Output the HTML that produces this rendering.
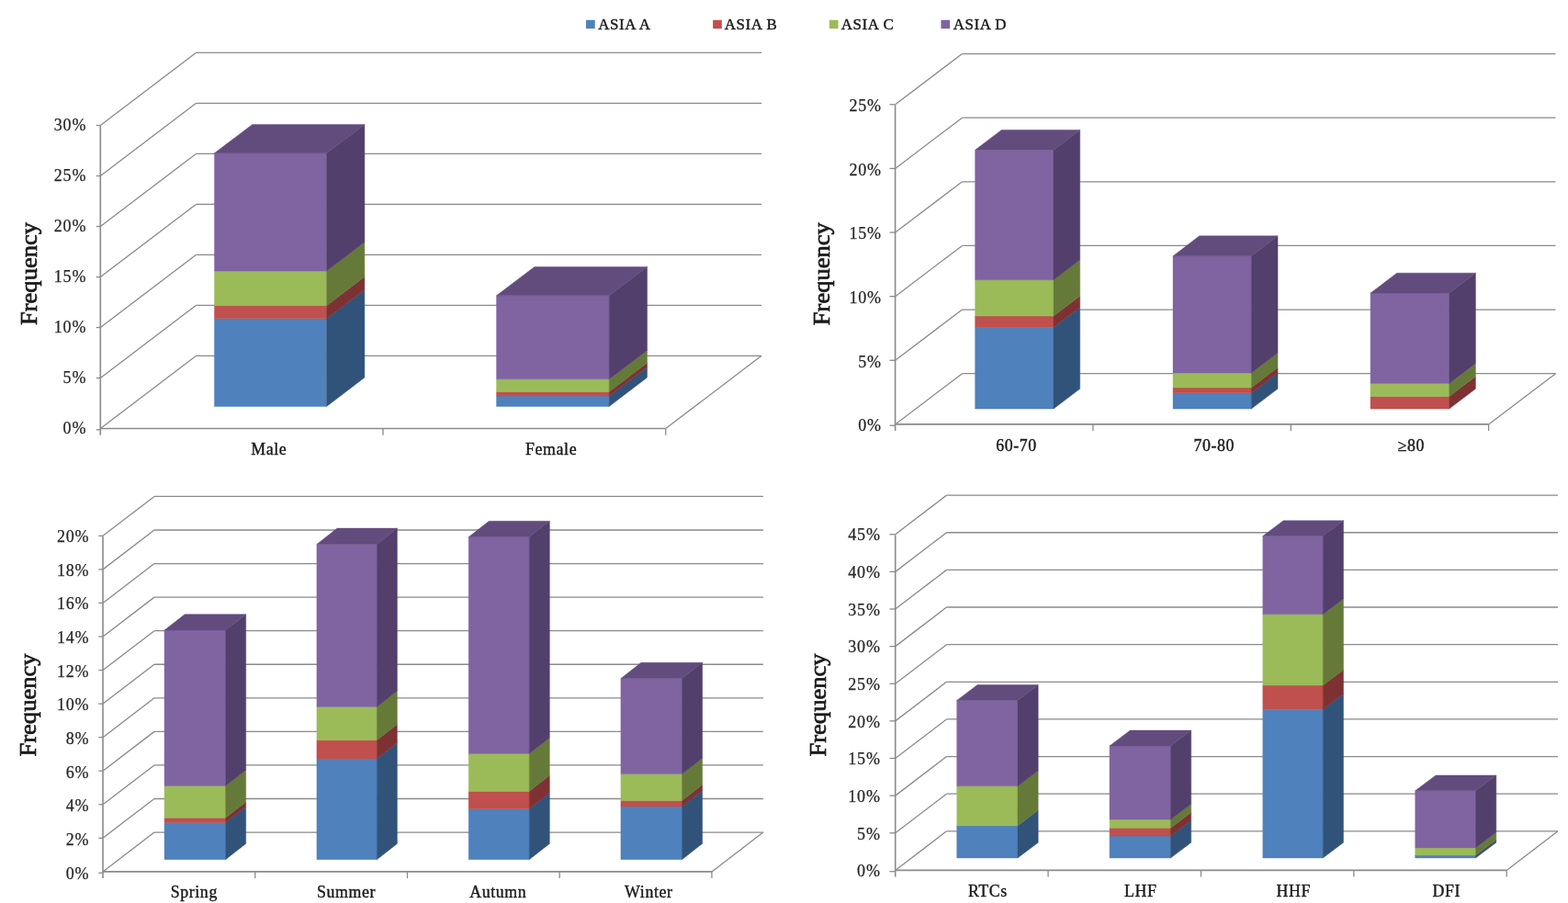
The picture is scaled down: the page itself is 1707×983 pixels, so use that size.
<!DOCTYPE html>
<html><head><meta charset="utf-8"><title>ASIA frequency charts</title>
<style>
html,body{margin:0;padding:0;background:#fff;}
body{width:1707px;height:983px;overflow:hidden;}
svg{display:block;}
polygon{stroke-width:0.45px;stroke-linejoin:miter;}
text{font-family:"Liberation Serif","Times New Roman",serif;fill:#1a1a1a;}
.tk{font-size:18.0px;text-anchor:end;dominant-baseline:central;fill:#262626;stroke:#262626;stroke-width:0.25px;letter-spacing:0.8px;}
.ct{font-size:17.8px;text-anchor:middle;stroke:#1a1a1a;stroke-width:0.4px;letter-spacing:0.65px;}
.fq{font-size:24.8px;text-anchor:middle;dominant-baseline:central;stroke:#1a1a1a;stroke-width:0.7px;}
.lg{font-size:16.9px;stroke:#1a1a1a;stroke-width:0.45px;letter-spacing:0.58px;}
</style></head>
<body>
<svg width="1707" height="983" viewBox="0 0 1707 983">
<rect width="1707" height="983" fill="#fff"/>
<rect x="638" y="21.8" width="9.7" height="9.4" fill="#4f81bd"/>
<text x="651.2" y="32.4" class="lg">ASIA A</text>
<rect x="776.1" y="21.8" width="9.7" height="9.4" fill="#c0504d"/>
<text x="788.8" y="32.4" class="lg">ASIA B</text>
<rect x="902.8" y="21.8" width="9.7" height="9.4" fill="#9bbb59"/>
<text x="915.8" y="32.4" class="lg">ASIA C</text>
<rect x="1024.4" y="21.8" width="9.7" height="9.4" fill="#8064a2"/>
<text x="1037.7" y="32.4" class="lg">ASIA D</text>
<line x1="213.6" y1="387.35" x2="829" y2="387.35" stroke="#8a8a8a" stroke-width="1.3"/>
<line x1="109.3" y1="466.5" x2="213.6" y2="387.35" stroke="#8a8a8a" stroke-width="1.3"/>
<line x1="213.6" y1="332.35" x2="829" y2="332.35" stroke="#8a8a8a" stroke-width="1.3"/>
<line x1="109.3" y1="411.5" x2="213.6" y2="332.35" stroke="#8a8a8a" stroke-width="1.3"/>
<line x1="213.6" y1="277.35" x2="829" y2="277.35" stroke="#8a8a8a" stroke-width="1.3"/>
<line x1="109.3" y1="356.5" x2="213.6" y2="277.35" stroke="#8a8a8a" stroke-width="1.3"/>
<line x1="213.6" y1="222.35" x2="829" y2="222.35" stroke="#8a8a8a" stroke-width="1.3"/>
<line x1="109.3" y1="301.5" x2="213.6" y2="222.35" stroke="#8a8a8a" stroke-width="1.3"/>
<line x1="213.6" y1="167.35" x2="829" y2="167.35" stroke="#8a8a8a" stroke-width="1.3"/>
<line x1="109.3" y1="246.5" x2="213.6" y2="167.35" stroke="#8a8a8a" stroke-width="1.3"/>
<line x1="213.6" y1="112.35" x2="829" y2="112.35" stroke="#8a8a8a" stroke-width="1.3"/>
<line x1="109.3" y1="191.5" x2="213.6" y2="112.35" stroke="#8a8a8a" stroke-width="1.3"/>
<line x1="213.6" y1="57.35" x2="829" y2="57.35" stroke="#8a8a8a" stroke-width="1.3"/>
<line x1="109.3" y1="136.5" x2="213.6" y2="57.35" stroke="#8a8a8a" stroke-width="1.3"/>
<line x1="109.3" y1="466.5" x2="724.7" y2="466.5" stroke="#8a8a8a" stroke-width="1.6"/>
<line x1="724.7" y1="466.5" x2="829" y2="387.35" stroke="#8a8a8a" stroke-width="1.3"/>
<line x1="109.3" y1="136.9" x2="109.3" y2="473.7" stroke="#8a8a8a" stroke-width="1.6"/>
<line x1="104.7" y1="467.8" x2="109.3" y2="467.8" stroke="#8a8a8a" stroke-width="1.3"/>
<text x="94.2" y="466.3" class="tk">0%</text>
<line x1="104.7" y1="411.5" x2="109.3" y2="411.5" stroke="#8a8a8a" stroke-width="1.3"/>
<text x="94.2" y="411.27" class="tk">5%</text>
<line x1="104.7" y1="356.5" x2="109.3" y2="356.5" stroke="#8a8a8a" stroke-width="1.3"/>
<text x="94.2" y="356.24" class="tk">10%</text>
<line x1="104.7" y1="301.5" x2="109.3" y2="301.5" stroke="#8a8a8a" stroke-width="1.3"/>
<text x="94.2" y="301.21" class="tk">15%</text>
<line x1="104.7" y1="246.5" x2="109.3" y2="246.5" stroke="#8a8a8a" stroke-width="1.3"/>
<text x="94.2" y="246.18" class="tk">20%</text>
<line x1="104.7" y1="191.5" x2="109.3" y2="191.5" stroke="#8a8a8a" stroke-width="1.3"/>
<text x="94.2" y="191.15" class="tk">25%</text>
<line x1="104.7" y1="136.5" x2="109.3" y2="136.5" stroke="#8a8a8a" stroke-width="1.3"/>
<text x="94.2" y="136.12" class="tk">30%</text>
<line x1="417" y1="466.5" x2="417" y2="473.7" stroke="#8a8a8a" stroke-width="1.3"/>
<line x1="724.7" y1="466.5" x2="724.7" y2="473.7" stroke="#8a8a8a" stroke-width="1.3"/>
<polygon points="233.4,442.4 355.6,442.4 355.6,346.8 233.4,346.8" fill="#4f81bd" stroke="#4f81bd"/>
<polygon points="355.6,442.4 396.9,411 396.9,315.4 355.6,346.8" fill="#31537a" stroke="#31537a"/>
<polygon points="233.4,346.8 355.6,346.8 355.6,332.7 233.4,332.7" fill="#c0504d" stroke="#c0504d"/>
<polygon points="355.6,346.8 396.9,315.4 396.9,301.3 355.6,332.7" fill="#7e3133" stroke="#7e3133"/>
<polygon points="233.4,332.7 355.6,332.7 355.6,295 233.4,295" fill="#9bbb59" stroke="#9bbb59"/>
<polygon points="355.6,332.7 396.9,301.3 396.9,263.6 355.6,295" fill="#657a39" stroke="#657a39"/>
<polygon points="233.4,295 355.6,295 355.6,166.8 233.4,166.8" fill="#8064a2" stroke="#8064a2"/>
<polygon points="355.6,295 396.9,263.6 396.9,135.4 355.6,166.8" fill="#523f6b" stroke="#523f6b"/>
<polygon points="233.4,166.8 355.6,166.8 396.9,135.4 274.7,135.4" fill="#624c7e" stroke="#624c7e"/>
<polygon points="540.5,442.4 663.2,442.4 663.2,431.1 540.5,431.1" fill="#4f81bd" stroke="#4f81bd"/>
<polygon points="663.2,442.4 704.5,411 704.5,399.7 663.2,431.1" fill="#31537a" stroke="#31537a"/>
<polygon points="540.5,431.1 663.2,431.1 663.2,426.5 540.5,426.5" fill="#c0504d" stroke="#c0504d"/>
<polygon points="663.2,431.1 704.5,399.7 704.5,395.1 663.2,426.5" fill="#7e3133" stroke="#7e3133"/>
<polygon points="540.5,426.5 663.2,426.5 663.2,412.8 540.5,412.8" fill="#9bbb59" stroke="#9bbb59"/>
<polygon points="663.2,426.5 704.5,395.1 704.5,381.4 663.2,412.8" fill="#657a39" stroke="#657a39"/>
<polygon points="540.5,412.8 663.2,412.8 663.2,321.8 540.5,321.8" fill="#8064a2" stroke="#8064a2"/>
<polygon points="663.2,412.8 704.5,381.4 704.5,290.4 663.2,321.8" fill="#523f6b" stroke="#523f6b"/>
<polygon points="540.5,321.8 663.2,321.8 704.5,290.4 581.8,290.4" fill="#624c7e" stroke="#624c7e"/>
<text x="292.8" y="494.6" class="ct">Male</text>
<text x="600.1" y="494.6" class="ct">Female</text>
<text transform="translate(32.2,298) rotate(-90) scale(1.071,1)" class="fq">Frequency</text>
<line x1="1047.5" y1="406.65" x2="1693.5" y2="406.65" stroke="#8a8a8a" stroke-width="1.3"/>
<line x1="974.6" y1="461.9" x2="1047.5" y2="406.65" stroke="#8a8a8a" stroke-width="1.3"/>
<line x1="1047.5" y1="337.03" x2="1693.5" y2="337.03" stroke="#8a8a8a" stroke-width="1.3"/>
<line x1="974.6" y1="392.28" x2="1047.5" y2="337.03" stroke="#8a8a8a" stroke-width="1.3"/>
<line x1="1047.5" y1="267.41" x2="1693.5" y2="267.41" stroke="#8a8a8a" stroke-width="1.3"/>
<line x1="974.6" y1="322.66" x2="1047.5" y2="267.41" stroke="#8a8a8a" stroke-width="1.3"/>
<line x1="1047.5" y1="197.79" x2="1693.5" y2="197.79" stroke="#8a8a8a" stroke-width="1.3"/>
<line x1="974.6" y1="253.04" x2="1047.5" y2="197.79" stroke="#8a8a8a" stroke-width="1.3"/>
<line x1="1047.5" y1="128.17" x2="1693.5" y2="128.17" stroke="#8a8a8a" stroke-width="1.3"/>
<line x1="974.6" y1="183.42" x2="1047.5" y2="128.17" stroke="#8a8a8a" stroke-width="1.3"/>
<line x1="1047.5" y1="58.55" x2="1693.5" y2="58.55" stroke="#8a8a8a" stroke-width="1.3"/>
<line x1="974.6" y1="113.8" x2="1047.5" y2="58.55" stroke="#8a8a8a" stroke-width="1.3"/>
<line x1="974.6" y1="461.9" x2="1620.6" y2="461.9" stroke="#8a8a8a" stroke-width="1.6"/>
<line x1="1620.6" y1="461.9" x2="1693.5" y2="406.65" stroke="#8a8a8a" stroke-width="1.3"/>
<line x1="974.6" y1="114.2" x2="974.6" y2="469.1" stroke="#8a8a8a" stroke-width="1.6"/>
<line x1="968.5" y1="463.2" x2="974.6" y2="463.2" stroke="#8a8a8a" stroke-width="1.3"/>
<text x="959.8" y="463.1" class="tk">0%</text>
<line x1="968.5" y1="392.28" x2="974.6" y2="392.28" stroke="#8a8a8a" stroke-width="1.3"/>
<text x="959.8" y="393.54" class="tk">5%</text>
<line x1="968.5" y1="322.66" x2="974.6" y2="322.66" stroke="#8a8a8a" stroke-width="1.3"/>
<text x="959.8" y="323.98" class="tk">10%</text>
<line x1="968.5" y1="253.04" x2="974.6" y2="253.04" stroke="#8a8a8a" stroke-width="1.3"/>
<text x="959.8" y="254.42" class="tk">15%</text>
<line x1="968.5" y1="183.42" x2="974.6" y2="183.42" stroke="#8a8a8a" stroke-width="1.3"/>
<text x="959.8" y="184.86" class="tk">20%</text>
<line x1="968.5" y1="113.8" x2="974.6" y2="113.8" stroke="#8a8a8a" stroke-width="1.3"/>
<text x="959.8" y="115.3" class="tk">25%</text>
<line x1="1189.93" y1="461.9" x2="1189.93" y2="469.1" stroke="#8a8a8a" stroke-width="1.3"/>
<line x1="1405.27" y1="461.9" x2="1405.27" y2="469.1" stroke="#8a8a8a" stroke-width="1.3"/>
<line x1="1620.6" y1="461.9" x2="1620.6" y2="469.1" stroke="#8a8a8a" stroke-width="1.3"/>
<polygon points="1061.6,445.1 1147,445.1 1147,356.3 1061.6,356.3" fill="#4f81bd" stroke="#4f81bd"/>
<polygon points="1147,445.1 1175.7,423.2 1175.7,334.4 1147,356.3" fill="#31537a" stroke="#31537a"/>
<polygon points="1061.6,356.3 1147,356.3 1147,344.1 1061.6,344.1" fill="#c0504d" stroke="#c0504d"/>
<polygon points="1147,356.3 1175.7,334.4 1175.7,322.2 1147,344.1" fill="#7e3133" stroke="#7e3133"/>
<polygon points="1061.6,344.1 1147,344.1 1147,304.7 1061.6,304.7" fill="#9bbb59" stroke="#9bbb59"/>
<polygon points="1147,344.1 1175.7,322.2 1175.7,282.8 1147,304.7" fill="#657a39" stroke="#657a39"/>
<polygon points="1061.6,304.7 1147,304.7 1147,163.3 1061.6,163.3" fill="#8064a2" stroke="#8064a2"/>
<polygon points="1147,304.7 1175.7,282.8 1175.7,141.4 1147,163.3" fill="#523f6b" stroke="#523f6b"/>
<polygon points="1061.6,163.3 1147,163.3 1175.7,141.4 1090.3,141.4" fill="#624c7e" stroke="#624c7e"/>
<polygon points="1277,445.1 1362.3,445.1 1362.3,427.8 1277,427.8" fill="#4f81bd" stroke="#4f81bd"/>
<polygon points="1362.3,445.1 1391,423.2 1391,405.9 1362.3,427.8" fill="#31537a" stroke="#31537a"/>
<polygon points="1277,427.8 1362.3,427.8 1362.3,422 1277,422" fill="#c0504d" stroke="#c0504d"/>
<polygon points="1362.3,427.8 1391,405.9 1391,400.1 1362.3,422" fill="#7e3133" stroke="#7e3133"/>
<polygon points="1277,422 1362.3,422 1362.3,406 1277,406" fill="#9bbb59" stroke="#9bbb59"/>
<polygon points="1362.3,422 1391,400.1 1391,384.1 1362.3,406" fill="#657a39" stroke="#657a39"/>
<polygon points="1277,406 1362.3,406 1362.3,278.7 1277,278.7" fill="#8064a2" stroke="#8064a2"/>
<polygon points="1362.3,406 1391,384.1 1391,256.8 1362.3,278.7" fill="#523f6b" stroke="#523f6b"/>
<polygon points="1277,278.7 1362.3,278.7 1391,256.8 1305.7,256.8" fill="#624c7e" stroke="#624c7e"/>
<polygon points="1492,445.1 1577.7,445.1 1577.7,431.6 1492,431.6" fill="#c0504d" stroke="#c0504d"/>
<polygon points="1577.7,445.1 1606.4,423.2 1606.4,409.7 1577.7,431.6" fill="#7e3133" stroke="#7e3133"/>
<polygon points="1492,431.6 1577.7,431.6 1577.7,417.4 1492,417.4" fill="#9bbb59" stroke="#9bbb59"/>
<polygon points="1577.7,431.6 1606.4,409.7 1606.4,395.5 1577.7,417.4" fill="#657a39" stroke="#657a39"/>
<polygon points="1492,417.4 1577.7,417.4 1577.7,319.1 1492,319.1" fill="#8064a2" stroke="#8064a2"/>
<polygon points="1577.7,417.4 1606.4,395.5 1606.4,297.2 1577.7,319.1" fill="#523f6b" stroke="#523f6b"/>
<polygon points="1492,319.1 1577.7,319.1 1606.4,297.2 1520.7,297.2" fill="#624c7e" stroke="#624c7e"/>
<text x="1106.5" y="490.8" class="ct">60-70</text>
<text x="1321.8" y="490.8" class="ct">70-80</text>
<text x="1536.4" y="490.8" class="ct">≥80</text>
<text transform="translate(894.5,298.2) rotate(-90) scale(1.071,1)" class="fq">Frequency</text>
<line x1="168" y1="906.05" x2="830.9" y2="906.05" stroke="#8a8a8a" stroke-width="1.3"/>
<line x1="112" y1="948.9" x2="168" y2="906.05" stroke="#8a8a8a" stroke-width="1.3"/>
<line x1="168" y1="869.49" x2="830.9" y2="869.49" stroke="#8a8a8a" stroke-width="1.3"/>
<line x1="112" y1="912.34" x2="168" y2="869.49" stroke="#8a8a8a" stroke-width="1.3"/>
<line x1="168" y1="832.93" x2="830.9" y2="832.93" stroke="#8a8a8a" stroke-width="1.3"/>
<line x1="112" y1="875.78" x2="168" y2="832.93" stroke="#8a8a8a" stroke-width="1.3"/>
<line x1="168" y1="796.37" x2="830.9" y2="796.37" stroke="#8a8a8a" stroke-width="1.3"/>
<line x1="112" y1="839.22" x2="168" y2="796.37" stroke="#8a8a8a" stroke-width="1.3"/>
<line x1="168" y1="759.81" x2="830.9" y2="759.81" stroke="#8a8a8a" stroke-width="1.3"/>
<line x1="112" y1="802.66" x2="168" y2="759.81" stroke="#8a8a8a" stroke-width="1.3"/>
<line x1="168" y1="723.25" x2="830.9" y2="723.25" stroke="#8a8a8a" stroke-width="1.3"/>
<line x1="112" y1="766.1" x2="168" y2="723.25" stroke="#8a8a8a" stroke-width="1.3"/>
<line x1="168" y1="686.69" x2="830.9" y2="686.69" stroke="#8a8a8a" stroke-width="1.3"/>
<line x1="112" y1="729.54" x2="168" y2="686.69" stroke="#8a8a8a" stroke-width="1.3"/>
<line x1="168" y1="650.13" x2="830.9" y2="650.13" stroke="#8a8a8a" stroke-width="1.3"/>
<line x1="112" y1="692.98" x2="168" y2="650.13" stroke="#8a8a8a" stroke-width="1.3"/>
<line x1="168" y1="613.57" x2="830.9" y2="613.57" stroke="#8a8a8a" stroke-width="1.3"/>
<line x1="112" y1="656.42" x2="168" y2="613.57" stroke="#8a8a8a" stroke-width="1.3"/>
<line x1="168" y1="577.01" x2="830.9" y2="577.01" stroke="#8a8a8a" stroke-width="1.3"/>
<line x1="112" y1="619.86" x2="168" y2="577.01" stroke="#8a8a8a" stroke-width="1.3"/>
<line x1="168" y1="540.45" x2="830.9" y2="540.45" stroke="#8a8a8a" stroke-width="1.3"/>
<line x1="112" y1="583.3" x2="168" y2="540.45" stroke="#8a8a8a" stroke-width="1.3"/>
<line x1="112" y1="948.9" x2="774.9" y2="948.9" stroke="#8a8a8a" stroke-width="1.6"/>
<line x1="774.9" y1="948.9" x2="830.9" y2="906.05" stroke="#8a8a8a" stroke-width="1.3"/>
<line x1="112" y1="583.7" x2="112" y2="956.1" stroke="#8a8a8a" stroke-width="1.6"/>
<line x1="107.3" y1="950.2" x2="112" y2="950.2" stroke="#8a8a8a" stroke-width="1.3"/>
<text x="97.4" y="950.5" class="tk">0%</text>
<line x1="107.3" y1="912.34" x2="112" y2="912.34" stroke="#8a8a8a" stroke-width="1.3"/>
<text x="97.4" y="913.87" class="tk">2%</text>
<line x1="107.3" y1="875.78" x2="112" y2="875.78" stroke="#8a8a8a" stroke-width="1.3"/>
<text x="97.4" y="877.24" class="tk">4%</text>
<line x1="107.3" y1="839.22" x2="112" y2="839.22" stroke="#8a8a8a" stroke-width="1.3"/>
<text x="97.4" y="840.61" class="tk">6%</text>
<line x1="107.3" y1="802.66" x2="112" y2="802.66" stroke="#8a8a8a" stroke-width="1.3"/>
<text x="97.4" y="803.98" class="tk">8%</text>
<line x1="107.3" y1="766.1" x2="112" y2="766.1" stroke="#8a8a8a" stroke-width="1.3"/>
<text x="97.4" y="767.35" class="tk">10%</text>
<line x1="107.3" y1="729.54" x2="112" y2="729.54" stroke="#8a8a8a" stroke-width="1.3"/>
<text x="97.4" y="730.72" class="tk">12%</text>
<line x1="107.3" y1="692.98" x2="112" y2="692.98" stroke="#8a8a8a" stroke-width="1.3"/>
<text x="97.4" y="694.09" class="tk">14%</text>
<line x1="107.3" y1="656.42" x2="112" y2="656.42" stroke="#8a8a8a" stroke-width="1.3"/>
<text x="97.4" y="657.46" class="tk">16%</text>
<line x1="107.3" y1="619.86" x2="112" y2="619.86" stroke="#8a8a8a" stroke-width="1.3"/>
<text x="97.4" y="620.83" class="tk">18%</text>
<line x1="107.3" y1="583.3" x2="112" y2="583.3" stroke="#8a8a8a" stroke-width="1.3"/>
<text x="97.4" y="584.2" class="tk">20%</text>
<line x1="277.73" y1="948.9" x2="277.73" y2="956.1" stroke="#8a8a8a" stroke-width="1.3"/>
<line x1="443.45" y1="948.9" x2="443.45" y2="956.1" stroke="#8a8a8a" stroke-width="1.3"/>
<line x1="609.17" y1="948.9" x2="609.17" y2="956.1" stroke="#8a8a8a" stroke-width="1.3"/>
<line x1="774.9" y1="948.9" x2="774.9" y2="956.1" stroke="#8a8a8a" stroke-width="1.3"/>
<polygon points="179,935.7 245.6,935.7 245.6,895.5 179,895.5" fill="#4f81bd" stroke="#4f81bd"/>
<polygon points="245.6,935.7 267.7,918.4 267.7,878.2 245.6,895.5" fill="#31537a" stroke="#31537a"/>
<polygon points="179,895.5 245.6,895.5 245.6,890.2 179,890.2" fill="#c0504d" stroke="#c0504d"/>
<polygon points="245.6,895.5 267.7,878.2 267.7,872.9 245.6,890.2" fill="#7e3133" stroke="#7e3133"/>
<polygon points="179,890.2 245.6,890.2 245.6,855.5 179,855.5" fill="#9bbb59" stroke="#9bbb59"/>
<polygon points="245.6,890.2 267.7,872.9 267.7,838.2 245.6,855.5" fill="#657a39" stroke="#657a39"/>
<polygon points="179,855.5 245.6,855.5 245.6,686 179,686" fill="#8064a2" stroke="#8064a2"/>
<polygon points="245.6,855.5 267.7,838.2 267.7,668.7 245.6,686" fill="#523f6b" stroke="#523f6b"/>
<polygon points="179,686 245.6,686 267.7,668.7 201.1,668.7" fill="#624c7e" stroke="#624c7e"/>
<polygon points="344.9,935.7 410.3,935.7 410.3,825.9 344.9,825.9" fill="#4f81bd" stroke="#4f81bd"/>
<polygon points="410.3,935.7 432.4,918.4 432.4,808.6 410.3,825.9" fill="#31537a" stroke="#31537a"/>
<polygon points="344.9,825.9 410.3,825.9 410.3,805.7 344.9,805.7" fill="#c0504d" stroke="#c0504d"/>
<polygon points="410.3,825.9 432.4,808.6 432.4,788.4 410.3,805.7" fill="#7e3133" stroke="#7e3133"/>
<polygon points="344.9,805.7 410.3,805.7 410.3,769.4 344.9,769.4" fill="#9bbb59" stroke="#9bbb59"/>
<polygon points="410.3,805.7 432.4,788.4 432.4,752.1 410.3,769.4" fill="#657a39" stroke="#657a39"/>
<polygon points="344.9,769.4 410.3,769.4 410.3,592.4 344.9,592.4" fill="#8064a2" stroke="#8064a2"/>
<polygon points="410.3,769.4 432.4,752.1 432.4,575.1 410.3,592.4" fill="#523f6b" stroke="#523f6b"/>
<polygon points="344.9,592.4 410.3,592.4 432.4,575.1 367,575.1" fill="#624c7e" stroke="#624c7e"/>
<polygon points="510.2,935.7 576.2,935.7 576.2,880.6 510.2,880.6" fill="#4f81bd" stroke="#4f81bd"/>
<polygon points="576.2,935.7 598.3,918.4 598.3,863.3 576.2,880.6" fill="#31537a" stroke="#31537a"/>
<polygon points="510.2,880.6 576.2,880.6 576.2,861.4 510.2,861.4" fill="#c0504d" stroke="#c0504d"/>
<polygon points="576.2,880.6 598.3,863.3 598.3,844.1 576.2,861.4" fill="#7e3133" stroke="#7e3133"/>
<polygon points="510.2,861.4 576.2,861.4 576.2,820.5 510.2,820.5" fill="#9bbb59" stroke="#9bbb59"/>
<polygon points="576.2,861.4 598.3,844.1 598.3,803.2 576.2,820.5" fill="#657a39" stroke="#657a39"/>
<polygon points="510.2,820.5 576.2,820.5 576.2,584.6 510.2,584.6" fill="#8064a2" stroke="#8064a2"/>
<polygon points="576.2,820.5 598.3,803.2 598.3,567.3 576.2,584.6" fill="#523f6b" stroke="#523f6b"/>
<polygon points="510.2,584.6 576.2,584.6 598.3,567.3 532.3,567.3" fill="#624c7e" stroke="#624c7e"/>
<polygon points="675.9,935.7 742.5,935.7 742.5,878 675.9,878" fill="#4f81bd" stroke="#4f81bd"/>
<polygon points="742.5,935.7 764.6,918.4 764.6,860.7 742.5,878" fill="#31537a" stroke="#31537a"/>
<polygon points="675.9,878 742.5,878 742.5,871.6 675.9,871.6" fill="#c0504d" stroke="#c0504d"/>
<polygon points="742.5,878 764.6,860.7 764.6,854.3 742.5,871.6" fill="#7e3133" stroke="#7e3133"/>
<polygon points="675.9,871.6 742.5,871.6 742.5,842.6 675.9,842.6" fill="#9bbb59" stroke="#9bbb59"/>
<polygon points="742.5,871.6 764.6,854.3 764.6,825.3 742.5,842.6" fill="#657a39" stroke="#657a39"/>
<polygon points="675.9,842.6 742.5,842.6 742.5,738.6 675.9,738.6" fill="#8064a2" stroke="#8064a2"/>
<polygon points="742.5,842.6 764.6,825.3 764.6,721.3 742.5,738.6" fill="#523f6b" stroke="#523f6b"/>
<polygon points="675.9,738.6 742.5,738.6 764.6,721.3 698,721.3" fill="#624c7e" stroke="#624c7e"/>
<text x="211.3" y="977" class="ct">Spring</text>
<text x="377" y="977" class="ct">Summer</text>
<text x="542.3" y="977" class="ct">Autumn</text>
<text x="706.4" y="977" class="ct">Winter</text>
<text transform="translate(30.5,767.5) rotate(-90) scale(1.071,1)" class="fq">Frequency</text>
<line x1="1030.5" y1="904.8" x2="1696" y2="904.8" stroke="#8a8a8a" stroke-width="1.3"/>
<line x1="974.7" y1="947.4" x2="1030.5" y2="904.8" stroke="#8a8a8a" stroke-width="1.3"/>
<line x1="1030.5" y1="864.17" x2="1696" y2="864.17" stroke="#8a8a8a" stroke-width="1.3"/>
<line x1="974.7" y1="906.77" x2="1030.5" y2="864.17" stroke="#8a8a8a" stroke-width="1.3"/>
<line x1="1030.5" y1="823.54" x2="1696" y2="823.54" stroke="#8a8a8a" stroke-width="1.3"/>
<line x1="974.7" y1="866.14" x2="1030.5" y2="823.54" stroke="#8a8a8a" stroke-width="1.3"/>
<line x1="1030.5" y1="782.91" x2="1696" y2="782.91" stroke="#8a8a8a" stroke-width="1.3"/>
<line x1="974.7" y1="825.51" x2="1030.5" y2="782.91" stroke="#8a8a8a" stroke-width="1.3"/>
<line x1="1030.5" y1="742.28" x2="1696" y2="742.28" stroke="#8a8a8a" stroke-width="1.3"/>
<line x1="974.7" y1="784.88" x2="1030.5" y2="742.28" stroke="#8a8a8a" stroke-width="1.3"/>
<line x1="1030.5" y1="701.65" x2="1696" y2="701.65" stroke="#8a8a8a" stroke-width="1.3"/>
<line x1="974.7" y1="744.25" x2="1030.5" y2="701.65" stroke="#8a8a8a" stroke-width="1.3"/>
<line x1="1030.5" y1="661.02" x2="1696" y2="661.02" stroke="#8a8a8a" stroke-width="1.3"/>
<line x1="974.7" y1="703.62" x2="1030.5" y2="661.02" stroke="#8a8a8a" stroke-width="1.3"/>
<line x1="1030.5" y1="620.39" x2="1696" y2="620.39" stroke="#8a8a8a" stroke-width="1.3"/>
<line x1="974.7" y1="662.99" x2="1030.5" y2="620.39" stroke="#8a8a8a" stroke-width="1.3"/>
<line x1="1030.5" y1="579.76" x2="1696" y2="579.76" stroke="#8a8a8a" stroke-width="1.3"/>
<line x1="974.7" y1="622.36" x2="1030.5" y2="579.76" stroke="#8a8a8a" stroke-width="1.3"/>
<line x1="1030.5" y1="539.13" x2="1696" y2="539.13" stroke="#8a8a8a" stroke-width="1.3"/>
<line x1="974.7" y1="581.73" x2="1030.5" y2="539.13" stroke="#8a8a8a" stroke-width="1.3"/>
<line x1="974.7" y1="947.4" x2="1640.2" y2="947.4" stroke="#8a8a8a" stroke-width="1.6"/>
<line x1="1640.2" y1="947.4" x2="1696" y2="904.8" stroke="#8a8a8a" stroke-width="1.3"/>
<line x1="974.7" y1="582.13" x2="974.7" y2="954.6" stroke="#8a8a8a" stroke-width="1.6"/>
<line x1="968.5" y1="948.7" x2="974.7" y2="948.7" stroke="#8a8a8a" stroke-width="1.3"/>
<text x="958.7" y="948.4" class="tk">0%</text>
<line x1="968.5" y1="906.77" x2="974.7" y2="906.77" stroke="#8a8a8a" stroke-width="1.3"/>
<text x="958.7" y="907.72" class="tk">5%</text>
<line x1="968.5" y1="866.14" x2="974.7" y2="866.14" stroke="#8a8a8a" stroke-width="1.3"/>
<text x="958.7" y="867.04" class="tk">10%</text>
<line x1="968.5" y1="825.51" x2="974.7" y2="825.51" stroke="#8a8a8a" stroke-width="1.3"/>
<text x="958.7" y="826.36" class="tk">15%</text>
<line x1="968.5" y1="784.88" x2="974.7" y2="784.88" stroke="#8a8a8a" stroke-width="1.3"/>
<text x="958.7" y="785.68" class="tk">20%</text>
<line x1="968.5" y1="744.25" x2="974.7" y2="744.25" stroke="#8a8a8a" stroke-width="1.3"/>
<text x="958.7" y="745" class="tk">25%</text>
<line x1="968.5" y1="703.62" x2="974.7" y2="703.62" stroke="#8a8a8a" stroke-width="1.3"/>
<text x="958.7" y="704.32" class="tk">30%</text>
<line x1="968.5" y1="662.99" x2="974.7" y2="662.99" stroke="#8a8a8a" stroke-width="1.3"/>
<text x="958.7" y="663.64" class="tk">35%</text>
<line x1="968.5" y1="622.36" x2="974.7" y2="622.36" stroke="#8a8a8a" stroke-width="1.3"/>
<text x="958.7" y="622.96" class="tk">40%</text>
<line x1="968.5" y1="581.73" x2="974.7" y2="581.73" stroke="#8a8a8a" stroke-width="1.3"/>
<text x="958.7" y="582.28" class="tk">45%</text>
<line x1="1141.08" y1="947.4" x2="1141.08" y2="954.6" stroke="#8a8a8a" stroke-width="1.3"/>
<line x1="1307.45" y1="947.4" x2="1307.45" y2="954.6" stroke="#8a8a8a" stroke-width="1.3"/>
<line x1="1473.83" y1="947.4" x2="1473.83" y2="954.6" stroke="#8a8a8a" stroke-width="1.3"/>
<line x1="1640.2" y1="947.4" x2="1640.2" y2="954.6" stroke="#8a8a8a" stroke-width="1.3"/>
<polygon points="1041.7,934 1107.9,934 1107.9,898.9 1041.7,898.9" fill="#4f81bd" stroke="#4f81bd"/>
<polygon points="1107.9,934 1130.2,917.2 1130.2,882.1 1107.9,898.9" fill="#31537a" stroke="#31537a"/>
<polygon points="1041.7,898.9 1107.9,898.9 1107.9,855.8 1041.7,855.8" fill="#9bbb59" stroke="#9bbb59"/>
<polygon points="1107.9,898.9 1130.2,882.1 1130.2,839 1107.9,855.8" fill="#657a39" stroke="#657a39"/>
<polygon points="1041.7,855.8 1107.9,855.8 1107.9,762.4 1041.7,762.4" fill="#8064a2" stroke="#8064a2"/>
<polygon points="1107.9,855.8 1130.2,839 1130.2,745.6 1107.9,762.4" fill="#523f6b" stroke="#523f6b"/>
<polygon points="1041.7,762.4 1107.9,762.4 1130.2,745.6 1064,745.6" fill="#624c7e" stroke="#624c7e"/>
<polygon points="1208,934 1274.4,934 1274.4,910.1 1208,910.1" fill="#4f81bd" stroke="#4f81bd"/>
<polygon points="1274.4,934 1296.7,917.2 1296.7,893.3 1274.4,910.1" fill="#31537a" stroke="#31537a"/>
<polygon points="1208,910.1 1274.4,910.1 1274.4,901.2 1208,901.2" fill="#c0504d" stroke="#c0504d"/>
<polygon points="1274.4,910.1 1296.7,893.3 1296.7,884.4 1274.4,901.2" fill="#7e3133" stroke="#7e3133"/>
<polygon points="1208,901.2 1274.4,901.2 1274.4,892.1 1208,892.1" fill="#9bbb59" stroke="#9bbb59"/>
<polygon points="1274.4,901.2 1296.7,884.4 1296.7,875.3 1274.4,892.1" fill="#657a39" stroke="#657a39"/>
<polygon points="1208,892.1 1274.4,892.1 1274.4,811.9 1208,811.9" fill="#8064a2" stroke="#8064a2"/>
<polygon points="1274.4,892.1 1296.7,875.3 1296.7,795.1 1274.4,811.9" fill="#523f6b" stroke="#523f6b"/>
<polygon points="1208,811.9 1274.4,811.9 1296.7,795.1 1230.3,795.1" fill="#624c7e" stroke="#624c7e"/>
<polygon points="1374.8,934 1440.2,934 1440.2,772.2 1374.8,772.2" fill="#4f81bd" stroke="#4f81bd"/>
<polygon points="1440.2,934 1462.5,917.2 1462.5,755.4 1440.2,772.2" fill="#31537a" stroke="#31537a"/>
<polygon points="1374.8,772.2 1440.2,772.2 1440.2,746 1374.8,746" fill="#c0504d" stroke="#c0504d"/>
<polygon points="1440.2,772.2 1462.5,755.4 1462.5,729.2 1440.2,746" fill="#7e3133" stroke="#7e3133"/>
<polygon points="1374.8,746 1440.2,746 1440.2,668.7 1374.8,668.7" fill="#9bbb59" stroke="#9bbb59"/>
<polygon points="1440.2,746 1462.5,729.2 1462.5,651.9 1440.2,668.7" fill="#657a39" stroke="#657a39"/>
<polygon points="1374.8,668.7 1440.2,668.7 1440.2,583.5 1374.8,583.5" fill="#8064a2" stroke="#8064a2"/>
<polygon points="1440.2,668.7 1462.5,651.9 1462.5,566.7 1440.2,583.5" fill="#523f6b" stroke="#523f6b"/>
<polygon points="1374.8,583.5 1440.2,583.5 1462.5,566.7 1397.1,566.7" fill="#624c7e" stroke="#624c7e"/>
<polygon points="1540.7,934 1606.5,934 1606.5,931.5 1540.7,931.5" fill="#4f81bd" stroke="#4f81bd"/>
<polygon points="1606.5,934 1628.8,917.2 1628.8,914.7 1606.5,931.5" fill="#31537a" stroke="#31537a"/>
<polygon points="1540.7,931.5 1606.5,931.5 1606.5,931 1540.7,931" fill="#c0504d" stroke="#c0504d"/>
<polygon points="1606.5,931.5 1628.8,914.7 1628.8,914.2 1606.5,931" fill="#7e3133" stroke="#7e3133"/>
<polygon points="1540.7,931 1606.5,931 1606.5,922.9 1540.7,922.9" fill="#9bbb59" stroke="#9bbb59"/>
<polygon points="1606.5,931 1628.8,914.2 1628.8,906.1 1606.5,922.9" fill="#657a39" stroke="#657a39"/>
<polygon points="1540.7,922.9 1606.5,922.9 1606.5,860.8 1540.7,860.8" fill="#8064a2" stroke="#8064a2"/>
<polygon points="1606.5,922.9 1628.8,906.1 1628.8,844 1606.5,860.8" fill="#523f6b" stroke="#523f6b"/>
<polygon points="1540.7,860.8 1606.5,860.8 1628.8,844 1563,844" fill="#624c7e" stroke="#624c7e"/>
<text x="1075.4" y="976" class="ct">RTCs</text>
<text x="1241.8" y="976" class="ct">LHF</text>
<text x="1408.2" y="976" class="ct">HHF</text>
<text x="1574.9" y="976" class="ct">DFI</text>
<text transform="translate(891,767.5) rotate(-90) scale(1.071,1)" class="fq">Frequency</text>
</svg>
</body></html>
